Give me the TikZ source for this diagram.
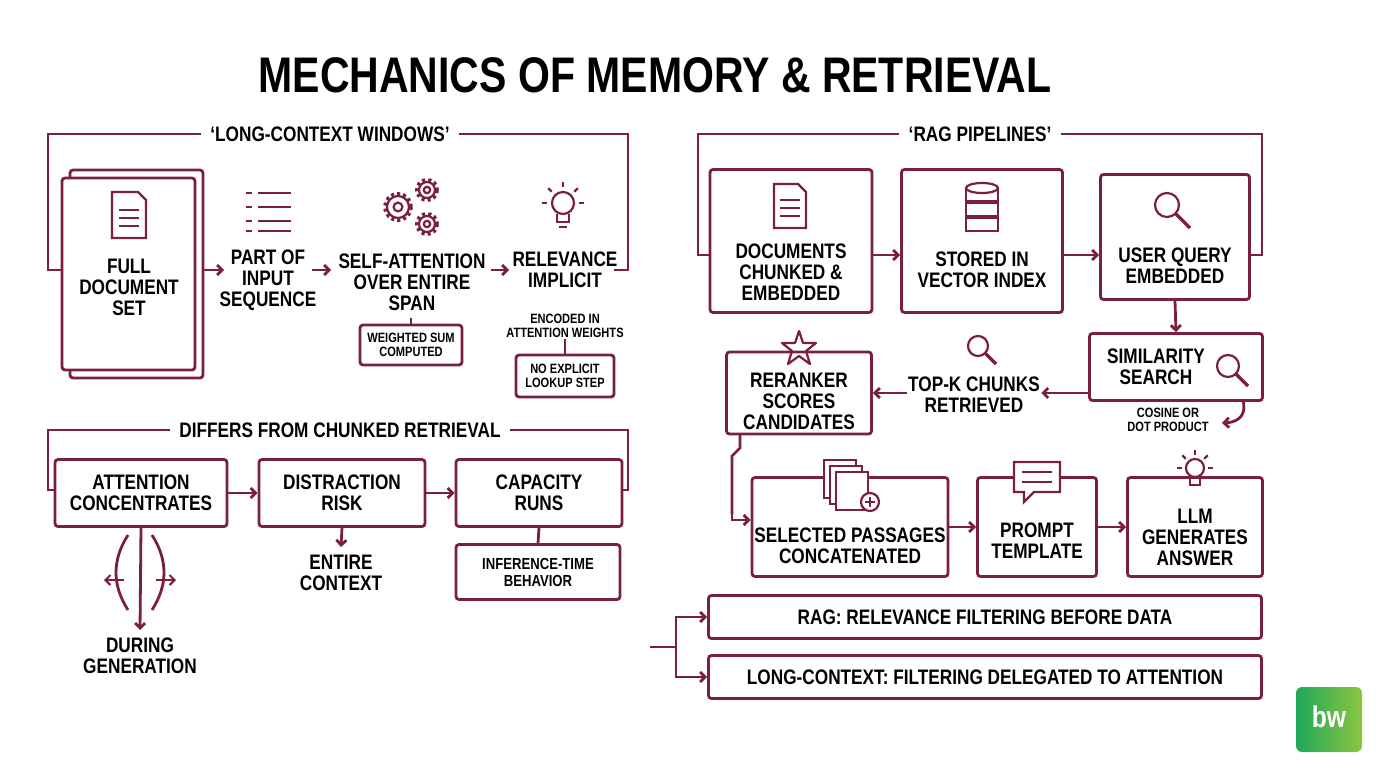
\documentclass[tikz,border=0pt]{standalone}
\usepackage{fontspec}
\setmainfont[FakeStretch=0.82]{Liberation Sans}
\usetikzlibrary{arrows.meta,calc}
\definecolor{mr}{HTML}{7A1F3D}
\definecolor{gA}{HTML}{1FA85A}
\definecolor{gB}{HTML}{8CC63F}
\begin{document}
\begin{tikzpicture}[x=1pt,y=-1pt,
  line width=2.8pt, draw=mr,
  every node/.style={font=\bfseries\fontsize{21}{21}\selectfont, align=center, text=black, inner sep=0pt},
  box/.style={draw=mr, line width=2.8pt, rounded corners=3pt},
  small/.style={font=\bfseries\fontsize{13.5}{14}\selectfont},
  ar/.style={draw=mr, line width=2.8pt, -{Straight Barb[length=5pt,width=10pt]}},
  ln/.style={draw=mr, line width=2.8pt},
  ic/.style={draw=mr, line width=2.2pt}]
\useasboundingbox (0,0) rectangle (1376,768);
\node[font=\bfseries\fontsize{50}{50}\selectfont] (title) at (655,75) {MECHANICS OF MEMORY \& RETRIEVAL};

% ---------- Left frame 1
\node (h1) at (330,134) {‘LONG-CONTEXT WINDOWS’};
\draw[ln] (h1.west) ++(-8,0) -- (48,134) -- (48,270) -- (62,270);
\draw[ln] (h1.east) ++(8,0) -- (628,134) -- (628,270) -- (614,270);
\draw[box] (70,170) rectangle (203,378);
\draw[box,fill=white] (62,178) rectangle (195,370);
\node (full) at (129,287) {FULL\\DOCUMENT\\SET};
\draw[ic] (112,192) -- (138,192) -- (146,200) -- (146,238) -- (112,238) -- cycle;
\foreach \y in {210,218,226} \draw[ic,line width=1.6pt] (119,\y) -- (139,\y);
\node (part) at (268,280) {PART OF\\INPUT\\SEQUENCE};
\foreach \y in {193,207,221,231} {\draw[ic] (246,\y) -- (252,\y); \draw[ic] (258,\y) -- (291,\y);}
\node (self) at (412,282) {SELF-ATTENTION\\OVER ENTIRE\\SPAN};
\foreach \c/\r in {{(398,207)}/11,{(427,190)}/8,{(427,224)}/8}
  {\draw[ic] \c circle (\r); \draw[ic,line width=4pt,dash pattern=on 3pt off 3pt] \c circle (\r+2); \draw[ic] \c circle (\r*0.4);}
\node (rel) at (565,270) {RELEVANCE\\IMPLICIT};
\draw[ic] (563,203) circle (11);
\draw[ic] (557,214) -- (557,222) -- (569,222) -- (569,214);
\draw[ic] (559,227) -- (567,227);
\foreach \a in {0,45,90,135,180} \draw[ic] ($(563,203)+(-\a:16)$) -- ($(563,203)+(-\a:21)$);
\draw[ar] (203,270) -- (224,270);
\draw[ar] (312,270) -- (331,270);
\draw[ar] (491,270) -- (509,270);
\node[box,small,minimum width=102pt,minimum height=40pt] (ws) at (411,345) {WEIGHTED SUM\\COMPUTED};
\draw[ln] (411,318) -- (ws.north);
\node[small] (enc) at (565,326) {ENCODED IN\\ATTENTION WEIGHTS};
\node[box,small,minimum width=98pt,minimum height=42pt] (nx) at (565,376) {NO EXPLICIT\\LOOKUP STEP};
\draw[ln] (enc.south) -- (nx.north);

% ---------- Left frame 2
\node (h2) at (340,430) {DIFFERS FROM CHUNKED RETRIEVAL};
\draw[ln] (h2.west) ++(-8,0) -- (48,430) -- (48,490) -- (55,490);
\draw[ln] (h2.east) ++(8,0) -- (628,430) -- (628,490) -- (622,490);
\node[box,minimum width=172pt,minimum height=67pt] (ac) at (141,493) {ATTENTION\\CONCENTRATES};
\node[box,minimum width=166pt,minimum height=67pt] (dr) at (342,493) {DISTRACTION\\RISK};
\node[box,minimum width=166pt,minimum height=67pt] (cr) at (539,493) {CAPACITY\\RUNS};
\draw[ar] (ac.east) -- (dr.west);
\draw[ar] (dr.east) -- (cr.west);
\node (dg) at (140,656) {DURING\\GENERATION};
\draw[ar] (ac.south) -- (140,630);
\draw[ln] (128,535) .. controls (112,560) and (112,585) .. (128,610);
\draw[ln] (152,535) .. controls (168,560) and (168,585) .. (152,610);
\draw[ar,line width=2pt] (124,580) -- (104,580);
\draw[ar,line width=2pt] (156,580) -- (176,580);
\node (ec) at (341,573) {ENTIRE\\CONTEXT};
\draw[ar] (dr.south) -- (341,547);
\node[box,font=\bfseries\fontsize{16}{17}\selectfont,minimum width=164pt,minimum height=55pt] (itb) at (538,572) {INFERENCE-TIME\\BEHAVIOR};
\draw[ln] (cr.south) -- (itb.north);

% ---------- Right
\node (h3) at (980,134) {‘RAG PIPELINES’};
\draw[ln] (h3.west) ++(-8,0) -- (698,134) -- (698,255) -- (710,255);
\draw[ln] (h3.east) ++(8,0) -- (1262,134) -- (1262,255) -- (1250,255);
\node[box,minimum width=162pt,minimum height=143pt] (dc) at (791,241) {};
\node at (791,272) {DOCUMENTS\\CHUNKED \&\\EMBEDDED};
\draw[ic] (774,184) -- (798,184) -- (806,192) -- (806,228) -- (774,228) -- cycle;
\foreach \y in {200,208,216} \draw[ic,line width=1.6pt] (780,\y) -- (800,\y);
\node[box,minimum width=161pt,minimum height=143pt] (vs) at (982,241) {};
\node at (982,270) {STORED IN\\VECTOR INDEX};
\foreach \y in {188,203,218} {\draw[ic] (966,\y) rectangle (998,\y+13);}
\draw[ic,fill=white] (982,188) ellipse (16 and 5);
\node[box,minimum width=149pt,minimum height=125pt] (uq) at (1175,237) {};
\node at (1175,266) {USER QUERY\\EMBEDDED};
\draw[ic] (1167,205) circle (12); \draw[ic,line width=3.5pt] (1176,214) -- (1190,228);
\draw[ar] (dc.east |- 0,255) -- (vs.west |- 0,255);
\draw[ar] (vs.east |- 0,255) -- (uq.west |- 0,255);
\node[box,minimum width=173pt,minimum height=67pt] (ss) at (1176,367) {};
\node at (1156,367) {SIMILARITY\\SEARCH};
\draw[ic] (1228,366) circle (11); \draw[ic,line width=3.5pt] (1236,374) -- (1248,386);
\draw[ar] (uq.south) -- (ss.north);
\node[small] (cos) at (1168,420) {COSINE OR\\DOT PRODUCT};
\draw[ar] (1243,400) .. controls (1246,412) and (1242,422) .. (1222,423);
\node (tk) at (974,395) {TOP-K CHUNKS\\RETRIEVED};
\draw[ic] (978,346) circle (10); \draw[ic,line width=3.5pt] (985,353) -- (996,364);
\node[box,minimum width=145pt,minimum height=82pt] (rr) at (799,393) {};
\node at (799,401) {RERANKER\\SCORES\\CANDIDATES};
\draw[ic,line join=round] (799,331)--(803,343)--(816,343)--(806,351)--(810,364)--(799,356)--(788,364)--(792,351)--(782,343)--(795,343)--cycle;
\draw[ar] (ss.west |- 0,393) -- (tk.east |- 0,393);
\draw[ar] (tk.west |- 0,393) -- (rr.east |- 0,393);
\node[box,minimum width=196pt,minimum height=99pt] (sp) at (850,527) {};
\node at (850,546) {SELECTED PASSAGES\\CONCATENATED};
\foreach \dx/\dy in {0/0,6/6,12/12} \draw[ic,fill=white] (824+\dx,460+\dy) rectangle (856+\dx,498+\dy);
\draw[ic,fill=white] (870,502) circle (9); \draw[ic] (865,502)--(875,502) (870,497)--(870,507);
\draw[ln] (740,434) -- (740,448) -- (732,456) -- (732,514);
\draw[ar] (732,514) -- (732,520) -- (sp.west |- 0,520);
\node[box,minimum width=119pt,minimum height=99pt] (pt) at (1037,527) {};
\node at (1037,541) {PROMPT\\TEMPLATE};
\draw[ic,fill=white] (1014,462) -- (1060,462) -- (1060,492) -- (1034,492) -- (1024,502) -- (1024,492) -- (1014,492) -- cycle;
\foreach \y in {472,482} \draw[ic,line width=1.6pt] (1022,\y) -- (1052,\y);
\node[box,minimum width=135pt,minimum height=99pt] (llm) at (1195,527) {};
\node at (1195,537) {LLM\\GENERATES\\ANSWER};
\draw[ic] (1195,468) circle (9);
\draw[ic] (1190,477) -- (1190,485) -- (1200,485) -- (1200,477);
\foreach \a in {0,45,90,135,180} \draw[ic] ($(1195,468)+(-\a:13)$) -- ($(1195,468)+(-\a:18)$);
\draw[ar] (sp.east |- 0,527) -- (pt.west |- 0,527);
\draw[ar] (pt.east |- 0,527) -- (llm.west |- 0,527);
\node[box,minimum width=553pt,minimum height=43pt] (b1) at (985,617) {RAG: RELEVANCE FILTERING BEFORE DATA};
\node[box,minimum width=553pt,minimum height=43pt] (b2) at (985,677) {LONG-CONTEXT: FILTERING DELEGATED TO ATTENTION};
\coordinate (br) at (650,647);
\draw[ln] (br) -- (676,647);
\draw[ar] (676,647) -- (676,617) -- (b1.west);
\draw[ar] (676,647) -- (676,677) -- (b2.west);

% logo
\shade[left color=gA,right color=gB,rounded corners=6pt] (1296,687) rectangle (1362,752);
\node[text=white,font=\bfseries\fontsize{30}{30}\selectfont] (logo) at (1329,717) {bw};
\end{tikzpicture}
\end{document}
